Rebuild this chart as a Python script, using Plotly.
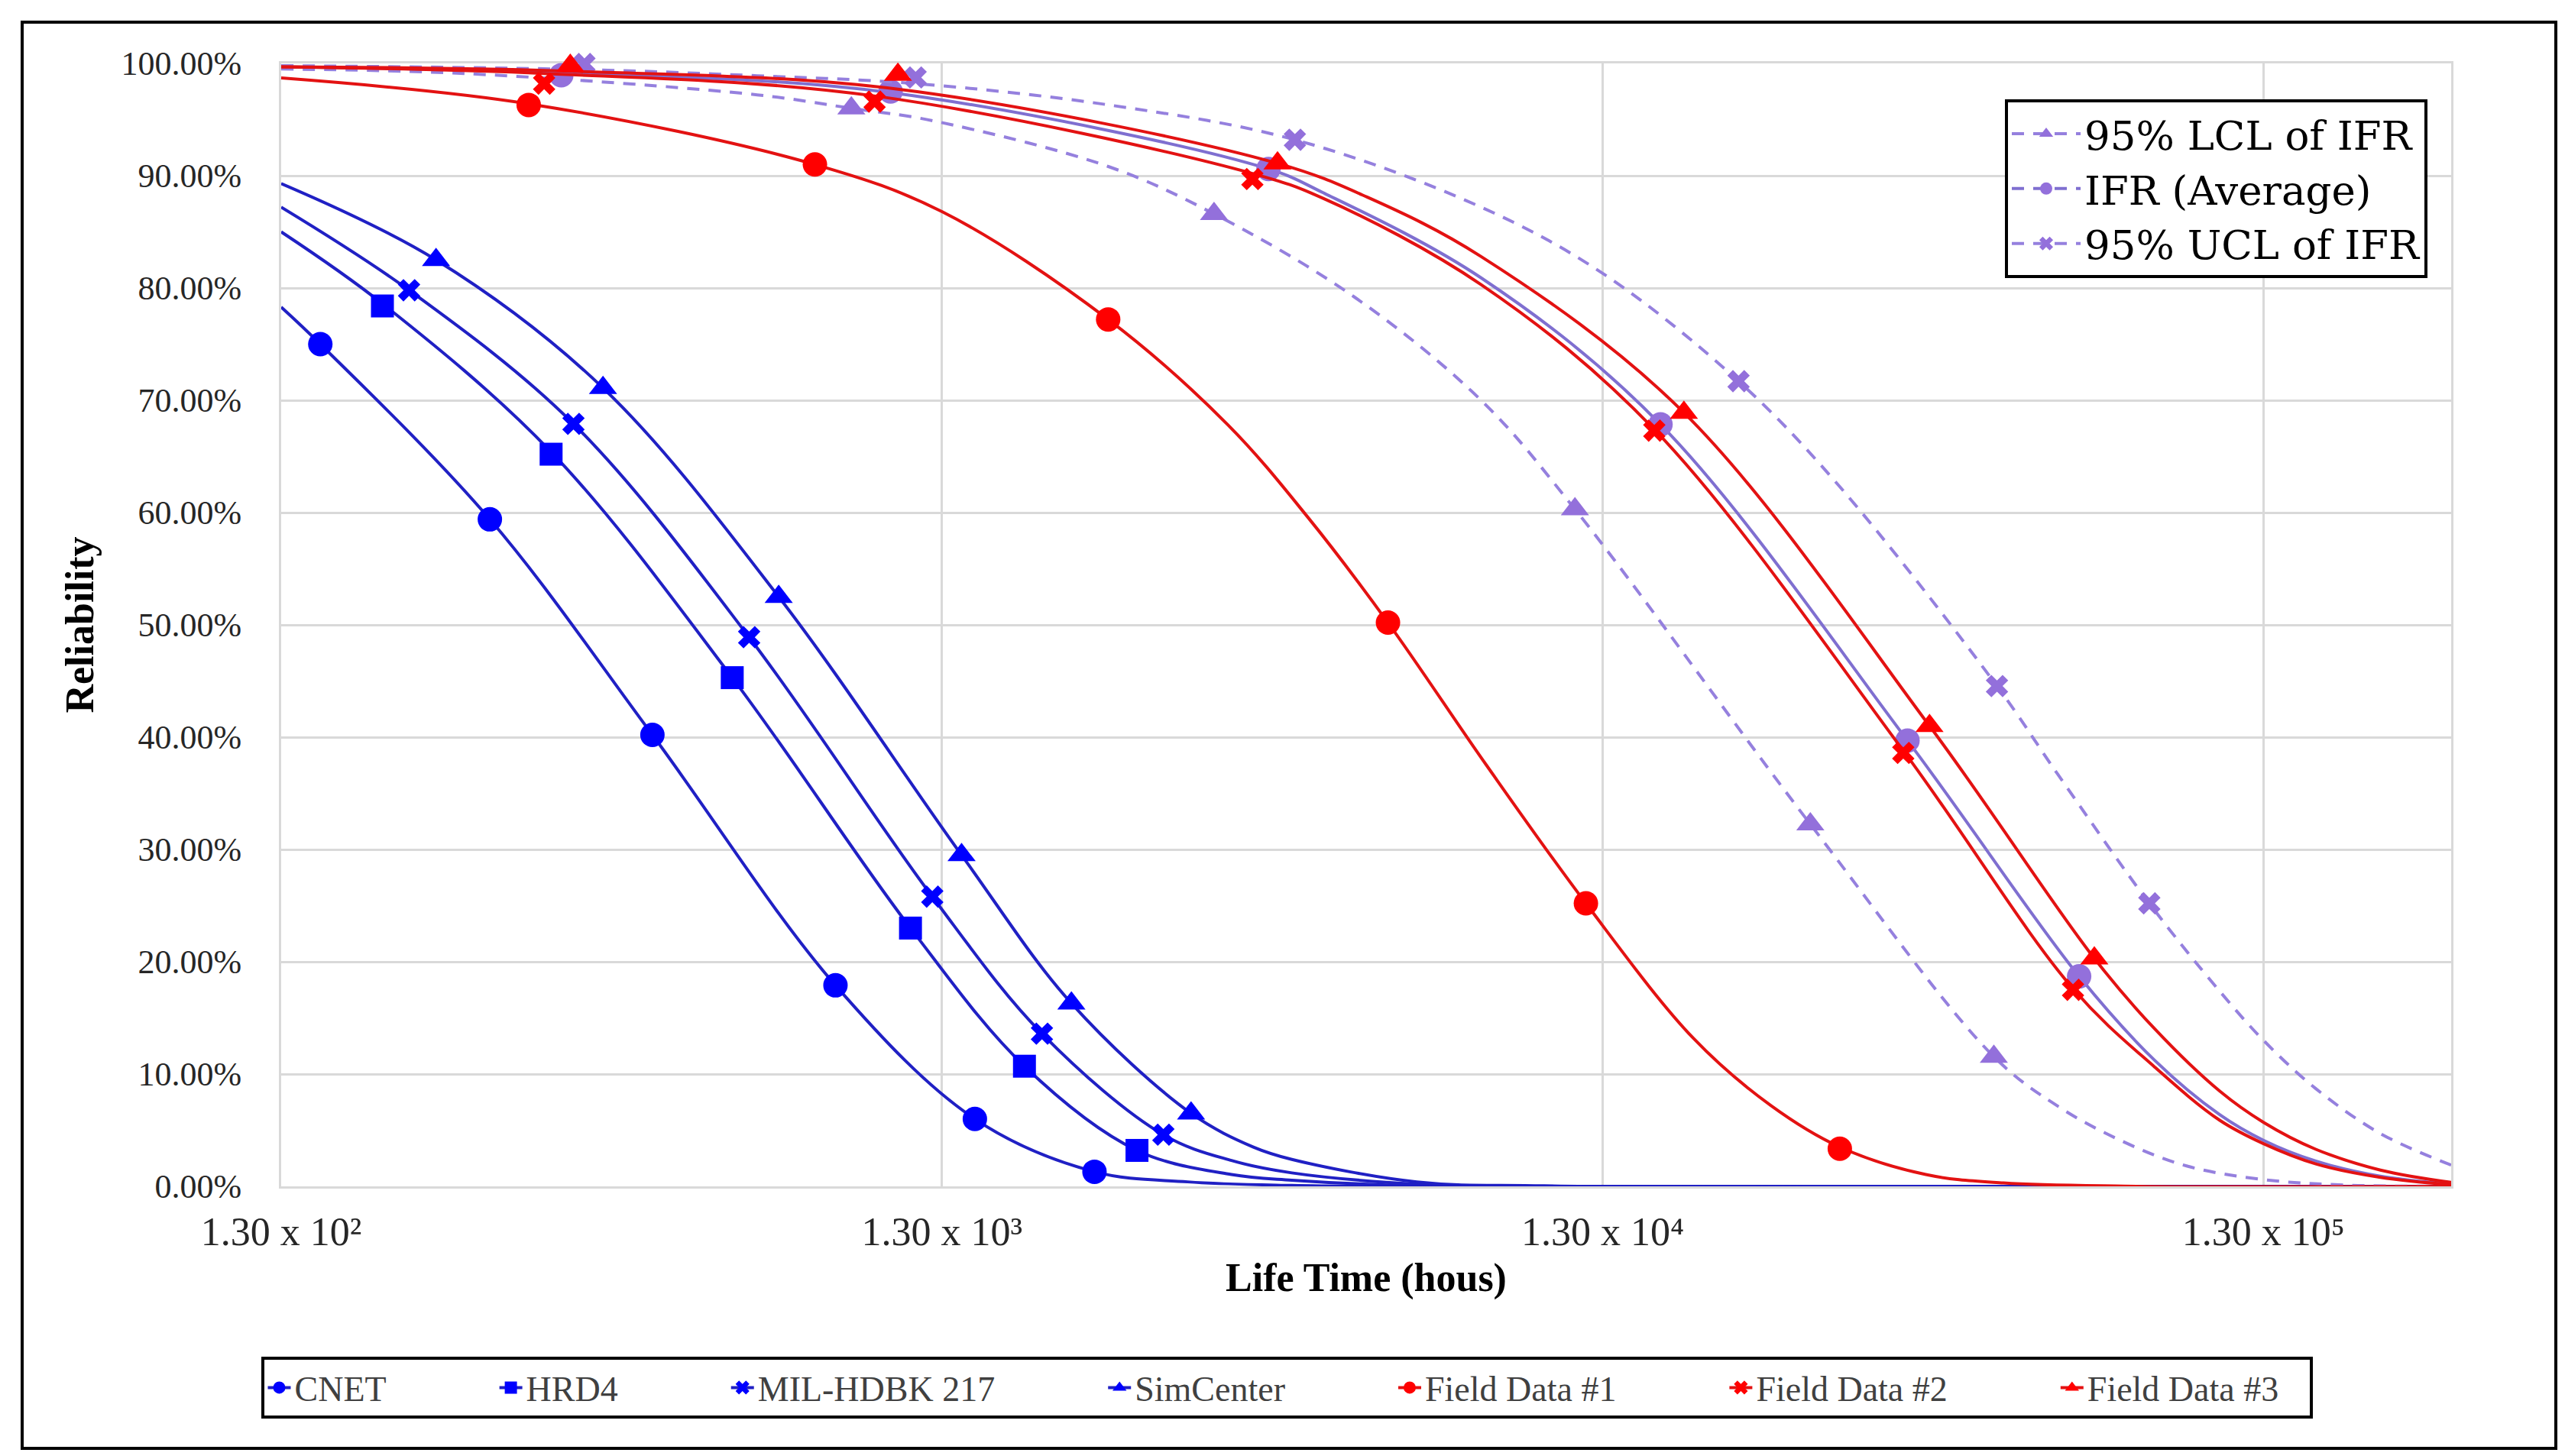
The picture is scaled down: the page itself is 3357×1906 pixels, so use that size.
import math
import plotly.graph_objects as go

# ---------------- data ----------------
# x: life time (hours), y: reliability (%)
# markers
CNET_MK_T = [149, 269, 474, 897, 1458, 2212]
CNET_MK_R = [75.0, 59.4, 40.2, 17.9, 6.0, 1.3]
HRD4_MK_T = [185, 333, 626, 1165, 1733, 2565]
HRD4_MK_R = [78.4, 65.2, 45.3, 23.0, 10.7, 3.2]
MIL_MK_T = [203, 360, 664, 1257, 1842, 2812]
MIL_MK_R = [79.8, 67.9, 48.9, 25.8, 13.6, 4.6]
SIM_MK_T = [223, 399, 736, 1392, 2041, 3097]
SIM_MK_R = [82.5, 71.1, 52.5, 29.5, 16.3, 6.5]
FD1_MK_T = [308, 835, 2320, 6151, 12260, 29700]
FD1_MK_R = [96.3, 91.0, 77.2, 50.2, 25.2, 3.35]
FD2_MK_T = [325, 1028, 3835, 15560, 37050, 66940]
FD2_MK_R = [98.2, 96.6, 89.7, 67.3, 38.6, 17.5]
FD3_MK_T = [356, 1115, 4186, 17250, 40600, 72100]
FD3_MK_R = [99.8, 99.0, 91.1, 68.9, 41.0, 20.3]
LCL_MK_T = [948, 3355, 11800, 26800, 50800]
LCL_MK_R = [96.0, 86.6, 60.3, 32.25, 11.55]
IFR_MK_T = [345, 1087, 4056, 15900, 37600, 68380]
IFR_MK_R = [98.95, 97.5, 90.6, 67.85, 39.7, 18.7]
UCL_MK_T = [374, 1186, 4447, 20870, 51360, 87330]
UCL_MK_R = [99.95, 98.75, 93.2, 71.7, 44.55, 25.2]

# curves
CNET_LN_T = [130, 149, 269, 474, 897, 1458, 2212, 3060, 4400, 6000, 250000]
CNET_LN_R = [78.3, 75.0, 59.4, 40.2, 17.9, 6.0, 1.3, 0.4, 0.08, 0.0, 0.0]
HRD4_LN_T = [130, 185, 333, 626, 1165, 1733, 2565, 3565, 4400, 6800, 250000]
HRD4_LN_R = [85.0, 78.6, 65.4, 45.3, 23.0, 10.7, 3.2, 1.05, 0.55, 0.05, 0.0]
MIL_LN_T = [130, 203, 360, 664, 1257, 1842, 2812, 3565, 4400, 6800, 10000, 250000]
MIL_LN_R = [87.2, 79.8, 67.9, 48.9, 25.8, 13.6, 4.6, 2.3, 1.2, 0.2, 0.0, 0.0]
SIM_LN_T = [130, 223, 399, 736, 1392, 2041, 3097, 3848, 4400, 6800, 10600, 250000]
SIM_LN_R = [89.3, 82.5, 71.1, 52.5, 29.5, 16.3, 6.5, 3.5, 2.4, 0.4, 0.05, 0.0]
FD1_LN_T = [130, 308, 835, 1300, 2320, 3523, 4650, 6151, 8670, 12260, 17820, 23350, 29700, 40080, 52530, 80000, 250000]
FD1_LN_R = [98.7, 96.4, 91.0, 86.8, 77.2, 67.8, 59.6, 50.2, 37.5, 25.2, 13.2, 7.2, 3.5, 1.05, 0.3, 0.02, 0.0]
FD2_LN_T = [130, 325, 1028, 3835, 4900, 8510, 15560, 37050, 66940, 89060, 111500, 130000, 156000, 195400, 250000]
FD2_LN_R = [99.7, 99.1, 97.1, 90.2, 88.0, 80.3, 67.4, 38.8, 17.6, 10.6, 5.9, 3.8, 2.0, 0.8, 0.15]
FD3_LN_T = [130, 356, 1115, 4186, 5717, 8510, 17250, 40600, 72100, 89060, 111500, 130000, 156000, 195400, 250000]
FD3_LN_R = [99.7, 99.3, 97.7, 91.1, 88.1, 82.8, 68.9, 41.0, 20.3, 14.0, 8.5, 5.7, 3.3, 1.45, 0.35]
LCL_LN_T = [130, 246, 683, 948, 1258, 2326, 3355, 5470, 8510, 11800, 26800, 50800, 63640, 79600, 99660, 130000, 175000, 250000]
LCL_LN_R = [99.5, 99.1, 97.2, 96.0, 94.9, 90.8, 86.6, 79.2, 70.0, 60.3, 32.25, 11.55, 7.1, 4.0, 1.8, 0.6, 0.1, 0.02]
IFR_LN_T = [130, 345, 1087, 4056, 4900, 8510, 15900, 37600, 68380, 89060, 111500, 130000, 156000, 195400, 250000]
IFR_LN_R = [99.7, 99.15, 97.4, 90.6, 88.5, 80.9, 67.85, 39.7, 18.7, 11.2, 6.4, 4.1, 2.25, 0.9, 0.2]
UCL_LN_T = [130, 374, 683, 1186, 2326, 4447, 8510, 13000, 20870, 29500, 51360, 63640, 87330, 111500, 130000, 156000, 195400, 250000]
UCL_LN_R = [99.8, 99.45, 98.9, 98.2, 96.3, 93.2, 87.2, 81.3, 71.7, 62.5, 44.55, 36.6, 25.2, 17.4, 13.0, 8.7, 4.7, 1.9]

X_TICK_VALS = [130, 1300, 13000, 130000]
X_TICK_TEXT = ["1.30 x 10\u00b2", "1.30 x 10\u00b3", "1.30 x 10\u2074", "1.30 x 10\u2075"]
X_MIN, X_MAX = 130, 250000

# ---------------- styling ----------------
BLUE_LN, BLUE_MK = "#2020C4", "#0000FF"
RED_LN, RED_MK = "#E31212", "#FF0000"
PUR_LN, PUR_MK = "#9580DE", "#9370DB"
DASH = "16px,12px"
FONT = "Liberation Serif"
NB = "\u00a0"

fig = go.Figure()


def add_series(name, lt, lr, mt, mr, lcol, mcol, sym, size, dash, legend, chart_dash=None):
    fig.add_trace(go.Scatter(
        x=lt, y=lr, mode="lines", showlegend=False, hoverinfo="skip",
        line=dict(color=lcol, width=4, shape="spline", smoothing=1,
                  dash=chart_dash if chart_dash else dash),
        cliponaxis=False))
    fig.add_trace(go.Scatter(
        x=mt, y=mr, mode="markers", showlegend=False, name=name.strip(NB),
        marker=dict(symbol=sym, size=size, color=mcol, line=dict(width=0)),
        cliponaxis=False))
    fig.add_trace(go.Scatter(
        x=[None], y=[None], mode="lines+markers", name=name, legend=legend,
        line=dict(color=lcol, width=4, dash=dash),
        marker=dict(symbol=sym, size=size, color=mcol, line=dict(width=0))))


pad = NB * 12
add_series("CNET" + pad, CNET_LN_T, CNET_LN_R, CNET_MK_T, CNET_MK_R, BLUE_LN, BLUE_MK, "circle", 32, "solid", "legend")
add_series("HRD4" + pad, HRD4_LN_T, HRD4_LN_R, HRD4_MK_T, HRD4_MK_R, BLUE_LN, BLUE_MK, "square", 30, "solid", "legend")
add_series("MIL-HDBK 217" + pad, MIL_LN_T, MIL_LN_R, MIL_MK_T, MIL_MK_R, BLUE_LN, BLUE_MK, "x", 26, "solid", "legend")
add_series("SimCenter" + pad, SIM_LN_T, SIM_LN_R, SIM_MK_T, SIM_MK_R, BLUE_LN, BLUE_MK, "triangle-up", 32, "solid", "legend")
add_series("95% LCL of IFR", LCL_LN_T, LCL_LN_R, LCL_MK_T, LCL_MK_R, PUR_LN, PUR_MK, "triangle-up", 32, DASH, "legend2")
add_series("IFR (Average)", IFR_LN_T, IFR_LN_R, IFR_MK_T, IFR_MK_R, "#7F6FD0", PUR_MK, "circle", 32, DASH, "legend2",
           chart_dash="solid")
add_series("95% UCL of IFR", UCL_LN_T, UCL_LN_R, UCL_MK_T, UCL_MK_R, PUR_LN, PUR_MK, "x", 26, DASH, "legend2")
add_series("Field Data #1" + pad, FD1_LN_T, FD1_LN_R, FD1_MK_T, FD1_MK_R, RED_LN, RED_MK, "circle", 32, "solid", "legend")
add_series("Field Data #2" + pad, FD2_LN_T, FD2_LN_R, FD2_MK_T, FD2_MK_R, RED_LN, RED_MK, "x", 26, "solid", "legend")
add_series("Field Data #3" + NB * 3, FD3_LN_T, FD3_LN_R, FD3_MK_T, FD3_MK_R, RED_LN, RED_MK, "triangle-up", 32, "solid", "legend")

W, H = 3357, 1906
L, R, T, B = 360, 157, 75, 361
pw, ph = W - L - R, H - T - B


def px(xpix):
    return (xpix - L) / pw


def py(ypix):
    return (H - B - ypix) / ph


fig.update_layout(
    width=W, height=H,
    margin=dict(l=L, r=R, t=T, b=B, autoexpand=False),
    paper_bgcolor="white", plot_bgcolor="white",
    font=dict(family=FONT, color="#262626"),
    xaxis=dict(
        type="log", range=[math.log10(X_MIN), math.log10(X_MAX)],
        tickmode="array", tickvals=X_TICK_VALS, ticktext=X_TICK_TEXT,
        showgrid=True, gridcolor="#D9D9D9", gridwidth=3,
        showline=True, linecolor="#D9D9D9", linewidth=3, mirror=True,
        ticks="", zeroline=False, layer="below traces",
        tickfont=dict(size=52, color="#262626", family=FONT), ticklabelstandoff=12,
        title=dict(text="<b>Life Time (hous)</b>", font=dict(size=52, color="black", family=FONT), standoff=14),
    ),
    yaxis=dict(
        range=[0, 100], dtick=10, tick0=0, tickformat=".2f", ticksuffix="%",
        showgrid=True, gridcolor="#D9D9D9", gridwidth=3,
        showline=True, linecolor="#D9D9D9", linewidth=3, mirror=True,
        ticks="", zeroline=False, layer="below traces",
        tickfont=dict(size=44, color="#262626", family=FONT), ticklabelstandoff=40,
        title=dict(text="<b>Reliability</b>", font=dict(size=52, color="black", family=FONT), standoff=20),
    ),
    legend=dict(
        orientation="h", x=px(1676), xanchor="center", y=py(1768), yanchor="top",
        bgcolor="white", bordercolor="black", borderwidth=4,
        font=dict(size=46, color="#404040", family=FONT),
        traceorder="normal",
    ),
    legend2=dict(
        orientation="v", x=px(2616), xanchor="left", y=py(122), yanchor="top",
        bgcolor="white", bordercolor="black", borderwidth=4,
        font=dict(size=53, color="black", family="DejaVu Serif"),
        itemwidth=90, traceorder="normal",
    ),
    shapes=[dict(
        type="rect", xref="paper", yref="paper",
        x0=px(21), x1=px(3337), y0=py(1888), y1=py(21),
        line=dict(color="black", width=4), layer="below")],
    showlegend=True,
)

fig.write_html("out.html")
